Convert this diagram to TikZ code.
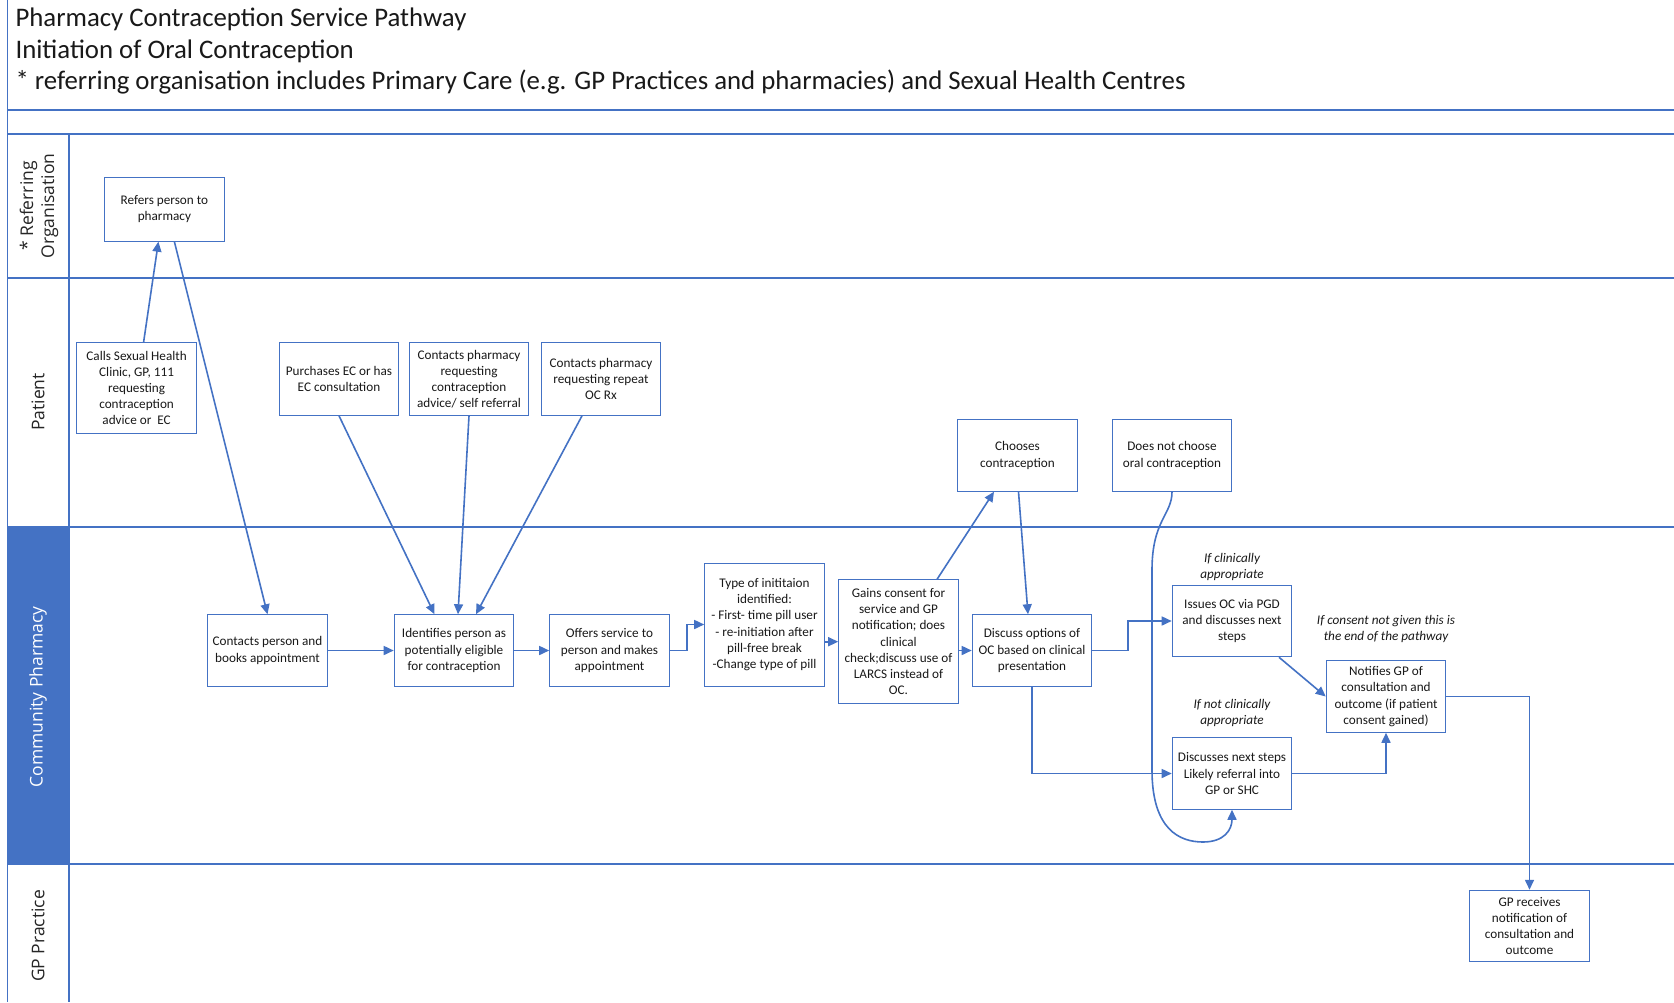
\documentclass[tikz,border=0pt]{standalone}
\usepackage{fontspec}
\setmainfont{Carlito}
\newfontfamily\lanefont{Open Sans}
\usetikzlibrary{arrows.meta,calc}
\definecolor{lblue}{HTML}{4472C4}
\begin{document}
\begin{tikzpicture}[x=1pt,y=-1pt,
  box/.style={draw=lblue, line width=1pt, fill=white, align=center, inner sep=1pt, minimum width=119.6pt, minimum height=71.5pt, font=\fontsize{13.2}{16.2}\selectfont, text=black!90},
  conn/.style={draw=lblue, line width=1.6pt, -{Triangle[length=10pt,width=9pt]}},
  lane/.style={draw=lblue, line width=1.4pt},
  lanelabel/.style={rotate=90, font=\lanefont\fontsize{17.5}{21}\selectfont, align=center, text=black!85},
  note/.style={font=\itshape\fontsize{13.2}{16.2}\selectfont, align=center, text=black!90},
  titletext/.style={anchor=west, font=\fontsize{26.8}{30}\selectfont, text=black!90}]

\useasboundingbox (0,0) rectangle (1674,1002);
\fill[white] (0,0) rectangle (1674,1002);
\fill[lblue] (7.5,527) rectangle (69,864);

\draw[lane] (7.5,0) -- (7.5,1002);
\draw[lane, line width=1.8pt] (7.5,110) -- (1674,110);
\draw[lane] (7.5,134) -- (1674,134);
\draw[lane] (69,134) -- (69,1002);
\draw[lane] (7.5,278) -- (1674,278);
\draw[lane] (7.5,527) -- (1674,527);
\draw[lane] (7.5,864) -- (1674,864);

\node[titletext] (t1) at (12,19) {Pharmacy Contraception Service Pathway};
\node[titletext] (t2) at (12,51) {Initiation of Oral Contraception};
\node[titletext] (t3) at (12,82) {* referring organisation includes Primary Care (e.g. GP Practices and pharmacies) and Sexual Health Centres};

\node[lanelabel] (l1) at (39,206) {* Referring\\Organisation};
\node[lanelabel] (l2) at (38,402) {Patient};
\node[lanelabel, text=white] (l3) at (38,697) {Community Pharmacy};
\node[lanelabel] (l4) at (38,936) {GP Practice};

\node[box, minimum height=64pt] (refers) at (164.4,209.2) {Refers person to\\pharmacy};
\node[box, minimum height=90.7pt] (calls) at (136.6,388) {Calls Sexual Health\\Clinic, GP, 111\\requesting\\contraception\\advice or\ \ EC};
\node[box, minimum height=72.6pt] (purch) at (339,379) {Purchases EC or has\\EC consultation};
\node[box, minimum height=72.6pt] (creq) at (469,379) {Contacts pharmacy\\requesting\\contraception\\advice/ self referral};
\node[box, minimum height=72.6pt] (crep) at (601,379) {Contacts pharmacy\\requesting repeat\\OC Rx};
\node[box] (chooses) at (1017.5,455.5) {Chooses\\contraception};
\node[box] (dnc) at (1172,455.5) {Does not choose\\oral contraception};

\node[box] (contactp) at (267.5,650.5) {Contacts person and\\books appointment};
\node[box] (ident) at (454,650.5) {Identifies person as\\potentially eligible\\for contraception};
\node[box] (offers) at (609.5,650.5) {Offers service to\\person and makes\\appointment};
\node[box, minimum height=123pt] (type) at (764.5,624.5) {Type of inititaion\\identified:\\- First- time pill user\\- re-initiation after\\pill-free break\\-Change type of pill};
\node[box, minimum height=123.7pt] (gains) at (898.5,641.7) {Gains consent for\\service and GP\\notification; does\\clinical\\check;discuss use of\\LARCS instead of\\OC.};
\node[box] (discuss) at (1032,650.5) {Discuss options of\\OC based on clinical\\presentation};
\node[box] (issues) at (1232,621) {Issues OC via PGD\\and discusses next\\steps};
\node[box] (dns) at (1232,773.5) {Discusses next steps\\Likely referral into\\GP or SHC};
\node[box] (notifies) at (1386,696.5) {Notifies GP of\\consultation and\\outcome (if patient\\consent gained)};
\node[box] (gpr) at (1529.5,926) {GP receives\\notification of\\consultation and\\outcome};

\node[note] (n1) at (1232,567) {If clinically\\appropriate};
\node[note] (n2) at (1386,629) {If consent not given this is\\the end of the pathway};
\node[note] (n3) at (1232,713) {If not clinically\\appropriate};

\draw[conn] ($(calls.north)+(7,0)$) -- ($(refers.south)+(-6,0)$);
\draw[conn] ($(refers.south)+(10,0)$) -- (contactp.north);
\draw[conn] (purch.south) -- ($(ident.north)+(-19.5,0)$);
\draw[conn] (creq.south) -- ($(ident.north)+(4,0)$);
\draw[conn] ($(crep.south)+(-19,0)$) -- ($(ident.north)+(22,0)$);
\draw[conn] (contactp.east) -- (ident.west);
\draw[conn] (ident.east) -- (offers.west);
\draw[conn] (offers.east) -- ++(17,0) |- (type.west);
\draw[conn] (gains.west -| type.east) -- (gains.west);
\draw[conn] (discuss.west -| gains.east) -- (discuss.west);
\draw[conn] ($(gains.north)+(38.5,0)$) -- ($(chooses.south)+(-23.5,0)$);
\draw[conn] ($(chooses.south)+(1,0)$) -- ($(discuss.north)+(-4,0)$);
\draw[conn] (discuss.east) -- ++(35.5,0) |- (issues.west);
\draw[conn] (discuss.south) |- (dns.west);
\draw[conn] (dnc.south) .. controls (1172,515) and (1152,520) .. (1152,570) -- (1152,770) .. controls (1152,830) and (1180,842) .. (1203,842) .. controls (1224,842) and (1232,830) .. (dns.south);
\draw[conn] ($(issues.south)+(47,0)$) -- (notifies.west);
\draw[conn] (dns.east) -| (notifies.south);
\draw[conn] (notifies.east) -| (gpr.north);
\end{tikzpicture}
\end{document}
